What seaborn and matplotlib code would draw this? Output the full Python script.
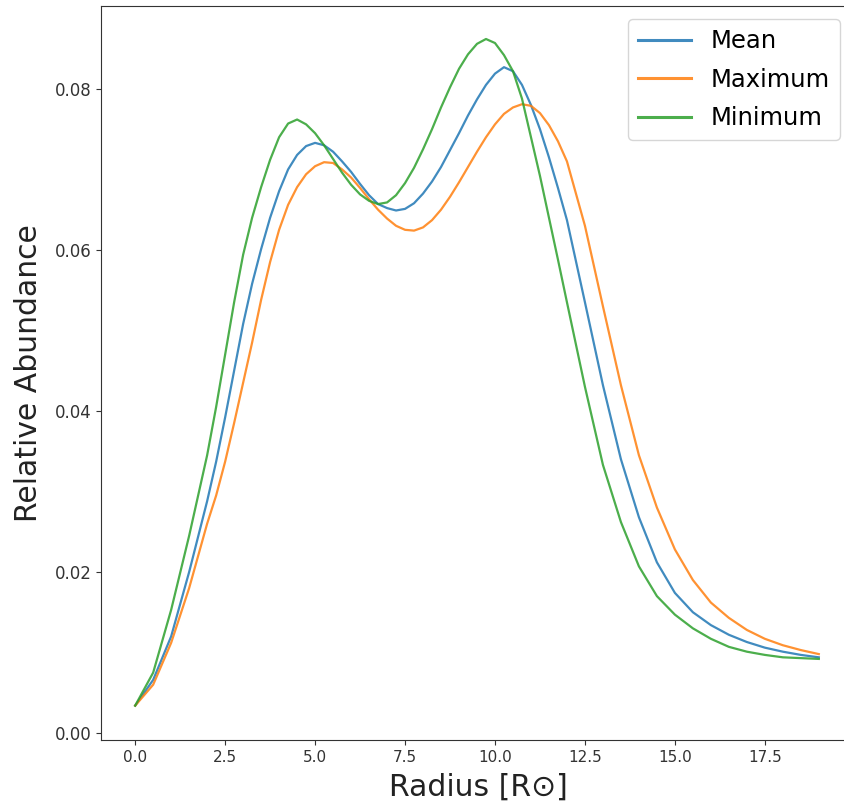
import numpy as np
import pandas as pd
import matplotlib
matplotlib.use("Agg")
import matplotlib.pyplot as plt
import seaborn as sns

radius = [0, 0.5, 1, 1.5, 2, 2.25, 2.5, 2.75,
          3, 3.25, 3.5, 3.75, 4, 4.25, 4.5, 4.75, 5, 5.25, 5.5, 5.75,
          6, 6.25, 6.5, 6.75, 7, 7.25, 7.5, 7.75, 8, 8.25, 8.5, 8.75,
          9, 9.25, 9.5, 9.75, 10, 10.25, 10.5, 10.75, 11, 11.25, 11.5, 11.75,
          12, 12.5, 13, 13.5, 14, 14.5, 15, 15.5, 16, 16.5, 17, 17.5, 18, 18.5, 19]

mean_vals = [0.0034, 0.0066, 0.0120, 0.0200, 0.0288, 0.0337, 0.0392, 0.0450,
             0.0508, 0.0558, 0.0601, 0.0640, 0.0673, 0.0700, 0.0718, 0.0729, 0.0733, 0.0730, 0.0722, 0.0710,
             0.0697, 0.0682, 0.0668, 0.0657, 0.0652, 0.0649, 0.0651, 0.0658, 0.0670, 0.0685, 0.0703, 0.0724,
             0.0745, 0.0767, 0.0787, 0.0805, 0.0819, 0.0827, 0.0822, 0.0805, 0.0780, 0.0750, 0.0715, 0.0677,
             0.0637, 0.0535, 0.0432, 0.0340, 0.0268, 0.0212, 0.0174, 0.0150, 0.0134, 0.0122, 0.0113, 0.0106, 0.0101, 0.0097, 0.0094]

max_vals = [0.0034, 0.0060, 0.0112, 0.0180, 0.0260, 0.0295, 0.0337, 0.0385,
            0.0435, 0.0485, 0.0538, 0.0585, 0.0625, 0.0656, 0.0678, 0.0694, 0.0704, 0.0709, 0.0708, 0.0700,
            0.0690, 0.0677, 0.0663, 0.0650, 0.0639, 0.0630, 0.0625, 0.0624, 0.0628, 0.0637, 0.0650, 0.0666,
            0.0684, 0.0703, 0.0722, 0.0740, 0.0756, 0.0769, 0.0777, 0.0781, 0.0779, 0.0770, 0.0755, 0.0735,
            0.0710, 0.0630, 0.0530, 0.0432, 0.0345, 0.0280, 0.0228, 0.0190, 0.0162, 0.0143, 0.0128, 0.0117, 0.0109, 0.0103, 0.0098]

min_vals = [0.0034, 0.0075, 0.0153, 0.0245, 0.0345, 0.0405, 0.0470, 0.0535,
            0.0594, 0.0640, 0.0678, 0.0712, 0.0740, 0.0757, 0.0762, 0.0756, 0.0745, 0.0730, 0.0713, 0.0696,
            0.0681, 0.0669, 0.0661, 0.0657, 0.0659, 0.0668, 0.0683, 0.0702, 0.0725, 0.0750, 0.0777, 0.0802,
            0.0825, 0.0843, 0.0856, 0.0862, 0.0857, 0.0842, 0.0822, 0.0788, 0.0740, 0.0692, 0.0640, 0.0588,
            0.0535, 0.0430, 0.0333, 0.0262, 0.0207, 0.0170, 0.0147, 0.0130, 0.0117, 0.0107, 0.0101, 0.0097, 0.0094, 0.0093, 0.0092]

series_names = ["Mean", "Maximum", "Minimum"]
colors = ["#1f77b4", "#ff7f0e", "#2ca02c"]

df = pd.concat([
    pd.DataFrame({"radius": radius, "value": vals, "series": name})
    for name, vals in zip(series_names, [mean_vals, max_vals, min_vals])
], ignore_index=True)

fig = plt.figure(figsize=(8.45, 8.08), dpi=100)
# axes extends slightly past the right edge, as in the (cropped) reference
ax = fig.add_axes([101 / 845, 68 / 808, 752 / 845, (740 - 6) / 808])

sns.lineplot(data=df, x="radius", y="value", hue="series", hue_order=series_names,
             palette=colors, linewidth=1.6, alpha=0.85, ax=ax)

ax.set_xlim(-0.95, 19.95)
ax.set_ylim(-0.00087, 0.0903)
ax.set_xticks([0, 2.5, 5, 7.5, 10, 12.5, 15, 17.5])
ax.set_xticklabels(["0.0", "2.5", "5.0", "7.5", "10.0", "12.5", "15.0", "17.5"])
ax.set_yticks([0.0, 0.02, 0.04, 0.06, 0.08])
ax.set_yticklabels(["0.00", "0.02", "0.04", "0.06", "0.08"])
ax.tick_params(axis="x", labelsize=11, colors="#333333")
ax.tick_params(axis="y", labelsize=12, colors="#333333")
for s in ax.spines.values():
    s.set_color("#333333")

ax.set_xlabel("Radius [R⊙]", fontsize=21.5, color="#222222")
ax.set_ylabel("Relative Abundance", fontsize=21.5, color="#222222")
ax.xaxis.set_label_coords((478 - 101) / 752, -0.044)
ax.yaxis.set_label_coords((43 - 101) / 752, 0.5)

leg = ax.legend(loc="upper right", fontsize=17.5, frameon=True,
                handlelength=2.2, labelspacing=0.6, borderaxespad=0.55)
for line in leg.get_lines():
    line.set_linewidth(2.2)

fig.savefig("out.png", dpi=100)
